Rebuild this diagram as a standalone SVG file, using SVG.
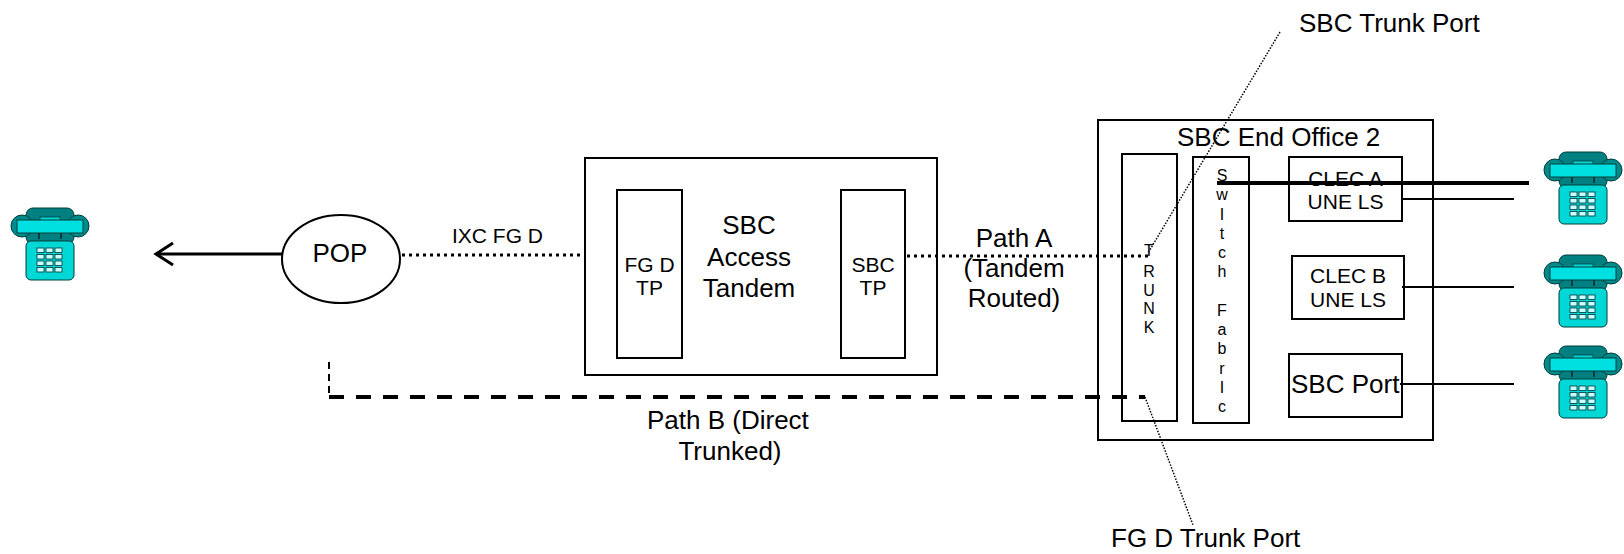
<svg xmlns="http://www.w3.org/2000/svg" xmlns:xlink="http://www.w3.org/1999/xlink" width="1624" height="554" viewBox="0 0 1624 554">
<style>
  text { font-family: "Liberation Sans", Arial, sans-serif; fill: #000; }
  .t26 { font-size: 26px; }
  .t21 { font-size: 21px; }
  .t16 { font-size: 16px; }
  .box { fill: #fff; stroke: #000; stroke-width: 2; }
  .dots { fill: none; stroke: #000; stroke-width: 3; stroke-dasharray: 3 4; }
  .leader { fill: none; stroke: #000; stroke-width: 1.5; stroke-dasharray: 1.5 1.5; }
  .thin { stroke: #000; stroke-width: 2; fill: none; }
</style>
<defs>
  <g id="phone">
    <rect x="15" y="0" width="48" height="36" rx="7" fill="#008080" stroke="#003c3c" stroke-width="1"/>
    <circle cx="11" cy="18" r="11" fill="#008b8b" stroke="#003c3c" stroke-width="1"/>
    <circle cx="67" cy="18" r="11" fill="#008b8b" stroke="#003c3c" stroke-width="1"/>
    <rect x="29" y="9" width="20" height="4" fill="#00d8d8" stroke="#003c3c" stroke-width="0.8"/>
    <rect x="6" y="12" width="66" height="13" fill="#00e0e0" stroke="#003c3c" stroke-width="1"/>
    <rect x="27" y="25" width="2" height="6" fill="#003c3c"/>
    <rect x="49" y="25" width="2" height="6" fill="#003c3c"/>
    <rect x="15" y="33" width="48" height="39" rx="5" fill="#00d8d8" stroke="#003c3c" stroke-width="1"/>
    <g fill="#ccffff" stroke="#003333" stroke-width="0.8">
      <rect x="26" y="40" width="7" height="4.5"/><rect x="35" y="40" width="7" height="4.5"/><rect x="44" y="40" width="7" height="4.5"/>
      <rect x="26" y="46.5" width="7" height="4.5"/><rect x="35" y="46.5" width="7" height="4.5"/><rect x="44" y="46.5" width="7" height="4.5"/>
      <rect x="26" y="53" width="7" height="4.5"/><rect x="35" y="53" width="7" height="4.5"/><rect x="44" y="53" width="7" height="4.5"/>
      <rect x="26" y="59.5" width="7" height="4.5"/><rect x="35" y="59.5" width="7" height="4.5"/><rect x="44" y="59.5" width="7" height="4.5"/>
    </g>
  </g>
</defs>

<g id="phone-left"><use xlink:href="#phone" href="#phone" x="11" y="208"/></g>

<g id="pop">
  <ellipse cx="341" cy="259" rx="59" ry="44" class="box"/>
  <text class="t26" x="340" y="262" text-anchor="middle">POP</text>
</g>

<g id="access-tandem">
  <rect x="585" y="158" width="352" height="217" class="box"/>
  <text class="t26" text-anchor="middle"><tspan x="749" y="234">SBC</tspan><tspan x="749" y="266">Access</tspan><tspan x="749" y="297">Tandem</tspan></text>
</g>
<g id="fgd-tp">
  <rect x="617" y="190" width="65" height="168" class="box"/>
  <text class="t21" text-anchor="middle"><tspan x="649.5" y="272">FG D</tspan><tspan x="649.5" y="295">TP</tspan></text>
</g>
<g id="sbc-tp">
  <rect x="841" y="190" width="64" height="168" class="box"/>
  <text class="t21" text-anchor="middle"><tspan x="873" y="272">SBC</tspan><tspan x="873" y="295">TP</tspan></text>
</g>

<g id="end-office">
  <rect x="1098" y="120" width="335" height="320" class="box"/>
  <text class="t26" x="1177" y="146">SBC End Office 2</text>
</g>
<g id="trunk">
  <rect x="1122" y="154" width="55" height="267" class="box"/>
  <text class="t16" text-anchor="middle"><tspan x="1149" y="256">T</tspan><tspan x="1149" y="277">R</tspan><tspan x="1149" y="295.5">U</tspan><tspan x="1149" y="314">N</tspan><tspan x="1149" y="332.5">K</tspan></text>
</g>
<g id="switch-fabric">
  <rect x="1193" y="157" width="56" height="266" class="box"/>
  <text class="t16" text-anchor="middle"><tspan x="1222" y="181">S</tspan><tspan x="1222" y="200">w</tspan><tspan x="1222" y="220">I</tspan><tspan x="1222" y="239">t</tspan><tspan x="1222" y="258">c</tspan><tspan x="1222" y="277">h</tspan><tspan x="1222" y="316">F</tspan><tspan x="1222" y="335">a</tspan><tspan x="1222" y="354">b</tspan><tspan x="1222" y="374">r</tspan><tspan x="1222" y="393">I</tspan><tspan x="1222" y="412">c</tspan></text>
</g>
<g id="clec-a">
  <rect x="1289" y="157" width="113" height="64" class="box"/>
  <text class="t21" text-anchor="middle"><tspan x="1345.5" y="186">CLEC A</tspan><tspan x="1345.5" y="209">UNE LS</tspan></text>
</g>
<g id="clec-b">
  <rect x="1292" y="256" width="112" height="63" class="box"/>
  <text class="t21" text-anchor="middle"><tspan x="1348" y="283">CLEC B</tspan><tspan x="1348" y="307">UNE LS</tspan></text>
</g>
<g id="sbc-port">
  <rect x="1289" y="354" width="113" height="63" class="box"/>
  <text class="t26" x="1291" y="393">SBC Port</text>
</g>

<g id="phone-r1"><use xlink:href="#phone" href="#phone" x="1544" y="152"/></g>
<g id="phone-r2"><use xlink:href="#phone" href="#phone" x="1544" y="255"/></g>
<g id="phone-r3"><use xlink:href="#phone" href="#phone" x="1544" y="346"/></g>

<g id="connectors">
  <line x1="282" y1="254" x2="156" y2="254" stroke="#000" stroke-width="3"/>
  <polyline points="173,243 156,254 173,265" fill="none" stroke="#000" stroke-width="3"/>
  <line x1="402" y1="255" x2="585" y2="255" class="dots"/>
  <line x1="907" y1="256" x2="1148" y2="256" class="dots"/>
  <line x1="329" y1="362" x2="329" y2="395" stroke="#000" stroke-width="2" stroke-dasharray="7 5"/>
  <line x1="329" y1="397" x2="1145" y2="397" stroke="#000" stroke-width="4" stroke-dasharray="15 12"/>
  <line x1="1217" y1="183" x2="1529" y2="183" stroke="#000" stroke-width="4"/>
  <line x1="1402" y1="199" x2="1514" y2="199" class="thin"/>
  <line x1="1402" y1="287" x2="1514" y2="287" class="thin"/>
  <line x1="1400" y1="384" x2="1514" y2="384" class="thin"/>
  <line x1="1280" y1="32" x2="1148" y2="253" class="leader"/>
  <line x1="1145" y1="397" x2="1193" y2="525" class="leader"/>
</g>

<g id="labels">
  <text class="t21" x="452" y="243">IXC FG D</text>
  <text class="t26" text-anchor="middle"><tspan x="1014" y="247">Path A</tspan><tspan x="1014" y="277">(Tandem</tspan><tspan x="1014" y="307">Routed)</tspan></text>
  <text class="t26" x="647" y="429">Path B (Direct</text>
  <text class="t26" x="730" y="460" text-anchor="middle">Trunked)</text>
  <text class="t26" x="1299" y="32">SBC Trunk Port</text>
  <text class="t26" x="1111" y="547">FG D Trunk Port</text>
</g>
</svg>
